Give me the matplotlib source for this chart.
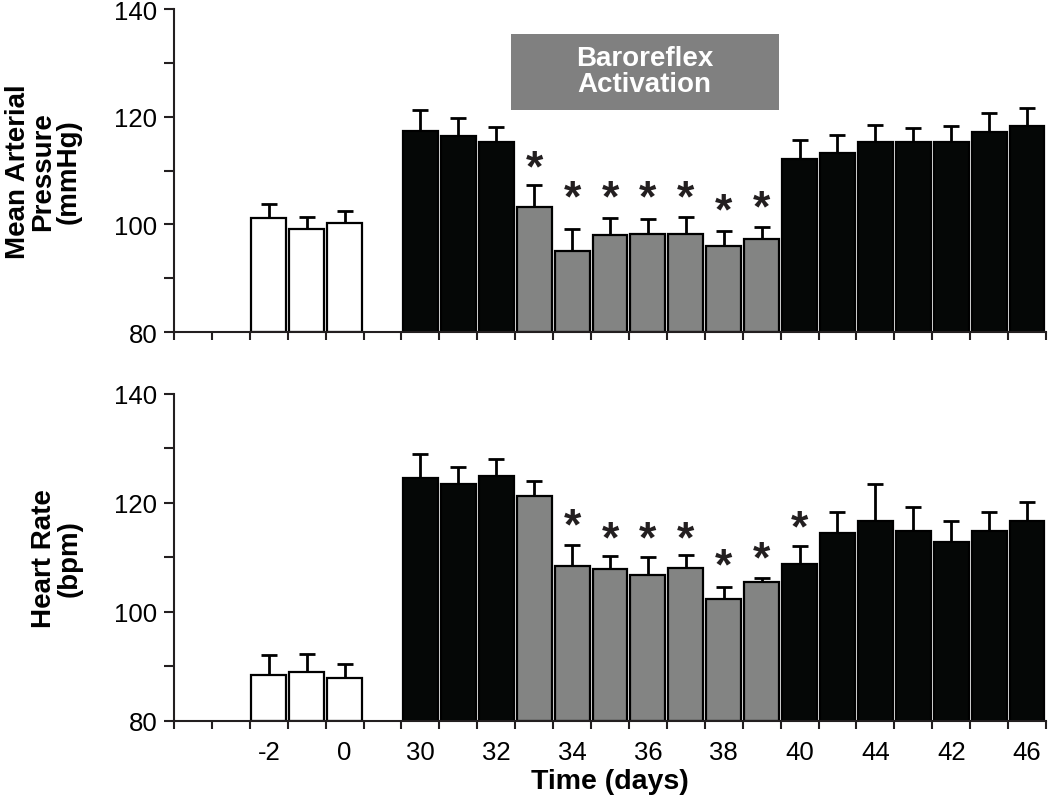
import numpy as np
import matplotlib
matplotlib.use("Agg")
import matplotlib.pyplot as plt
from matplotlib.patches import Rectangle
from matplotlib.transforms import offset_copy

plt.rcParams['font.family'] = ['Liberation Sans', 'DejaVu Sans']

# day slots along the x axis ('' = empty slot)
slots = ['', '', '-2', '-1', '0', '',
         '30', '31', '32',
         '33', '34', '35', '36', '37', '38', '39',
         '40', '41', '42', '43', '44', '45', '46']
baseline_days = ['-2', '-1', '0']
pre_days = ['30', '31', '32']
ba_days = ['33', '34', '35', '36', '37', '38', '39']
post_days = ['40', '41', '42', '43', '44', '45', '46']
# labels printed under every second slot (as in the original figure)
tick_labels = ['-2', '0', '30', '32', '34', '36', '38', '40', '44', '42', '46']

# mean arterial pressure (mmHg) and upper SEM
map_base = [101.2, 99.1, 100.3]
map_base_err = [2.5, 2.3, 2.1]
map_pre = [117.3, 116.4, 115.3]
map_pre_err = [4.0, 3.3, 2.7]
map_ba = [103.2, 95.1, 98.1, 98.2, 98.2, 96.0, 97.2]
map_ba_err = [4.2, 4.0, 3.1, 2.8, 3.1, 2.8, 2.4]
map_post = [112.2, 113.2, 115.3, 115.3, 115.3, 117.2, 118.3]
map_post_err = [3.5, 3.4, 3.2, 2.6, 2.9, 3.4, 3.3]
map_star_days = ['33', '34', '35', '36', '37', '38', '39']
map_star_y = [111.8, 106.3, 106.3, 106.3, 106.3, 103.8, 104.4]

# heart rate (bpm) and upper SEM
hr_base = [88.4, 88.9, 87.8]
hr_base_err = [3.7, 3.4, 2.6]
hr_pre = [124.6, 123.5, 124.9]
hr_pre_err = [4.3, 3.1, 3.2]
hr_ba = [121.2, 108.4, 107.8, 106.8, 108.0, 102.4, 105.5]
hr_ba_err = [2.9, 3.9, 2.5, 3.2, 2.4, 2.1, 0.8]
hr_post = [108.8, 114.5, 116.7, 114.9, 112.9, 114.8, 116.6]
hr_post_err = [3.2, 3.8, 6.7, 4.3, 3.8, 3.6, 3.6]
hr_star_days = ['34', '35', '36', '37', '38', '39', '40']
hr_star_y = [117.0, 114.6, 114.6, 114.6, 109.7, 111.0, 116.7]

GRAY = '#838483'
BLACK = '#050706'


def xpos(days):
    return np.array([slots.index(d) for d in days]) + 0.5


def draw_panel(ax, groups, star_days, star_y, ylabel, label_x):
    for days, vals, errs, color in groups:
        x = xpos(days)
        vals = np.array(vals)
        ax.errorbar(x, vals, yerr=[np.zeros(len(vals)), errs], fmt='none',
                    ecolor='black', elinewidth=2, capsize=6, capthick=2, zorder=1)
        ax.bar(x, vals - 80, bottom=80, width=0.92, color=color,
               edgecolor='black', linewidth=1.6, zorder=2)
    fs = 32
    tr = offset_copy(ax.transData, fig=ax.figure, y=-0.44 * fs, units='points')
    for d, y in zip(star_days, star_y):
        ax.text(xpos([d])[0], y, '*', ha='center', va='baseline', fontsize=fs,
                fontweight='bold', color='#231f20', transform=tr)

    ax.set_xlim(0, len(slots))
    ax.set_ylim(80, 140)
    for s in ['top', 'right']:
        ax.spines[s].set_visible(False)
    for s in ['left', 'bottom']:
        ax.spines[s].set_linewidth(1.5)
        ax.spines[s].set_color('#231f20')
    ax.set_xticks(range(len(slots) + 1))
    ax.set_xticklabels([])
    ax.set_yticks([80, 100, 120, 140])
    ax.set_yticks([90, 110, 130], minor=True)
    ax.tick_params(axis='both', which='both', direction='out', length=7,
                   width=1.5, color='#231f20', labelsize=18.5, pad=5)
    ax.tick_params(axis='x', which='major', length=6)
    ax.text(label_x, 0.5, ylabel, transform=ax.transAxes, rotation=90,
            ha='center', va='center', multialignment='center',
            fontsize=20, fontweight='bold', linespacing=0.98)


fig = plt.figure(figsize=(10.5, 8.03), dpi=100)
ax1 = fig.add_axes([0.1657, 0.5853, 0.8305, 0.4022])
ax2 = fig.add_axes([0.1657, 0.1012, 0.8305, 0.4069])

draw_panel(ax1,
           [(baseline_days, map_base, map_base_err, 'white'),
            (pre_days, map_pre, map_pre_err, BLACK),
            (ba_days, map_ba, map_ba_err, GRAY),
            (post_days, map_post, map_post_err, BLACK)],
           map_star_days, map_star_y,
           'Mean Arterial\nPressure\n(mmHg)', -0.150)

draw_panel(ax2,
           [(baseline_days, hr_base, hr_base_err, 'white'),
            (pre_days, hr_pre, hr_pre_err, BLACK),
            (ba_days, hr_ba, hr_ba_err, GRAY),
            (post_days, hr_post, hr_post_err, BLACK)],
           hr_star_days, hr_star_y,
           'Heart Rate\n(bpm)', -0.134)

# x tick labels under every second slot of the lower panel
ax2.set_xticks(xpos(slots[2::2]), minor=True)
ax2.set_xticklabels(tick_labels, minor=True)
ax2.tick_params(axis='x', which='minor', length=0, pad=14, labelsize=18.5)
ax2.set_xlabel('Time (days)', fontsize=20.5, fontweight='bold', labelpad=3)

# baroreflex activation box
ax1.add_patch(Rectangle((8.88, 121.3), 7.07, 14.1, facecolor='#808080',
                        edgecolor='none', zorder=3))
ax1.text(12.41, 128.4, 'Baroreflex\nActivation', ha='center', va='center',
         color='white', fontsize=20, fontweight='bold', linespacing=1.0, zorder=4)

fig.savefig('out.png', dpi=100)
